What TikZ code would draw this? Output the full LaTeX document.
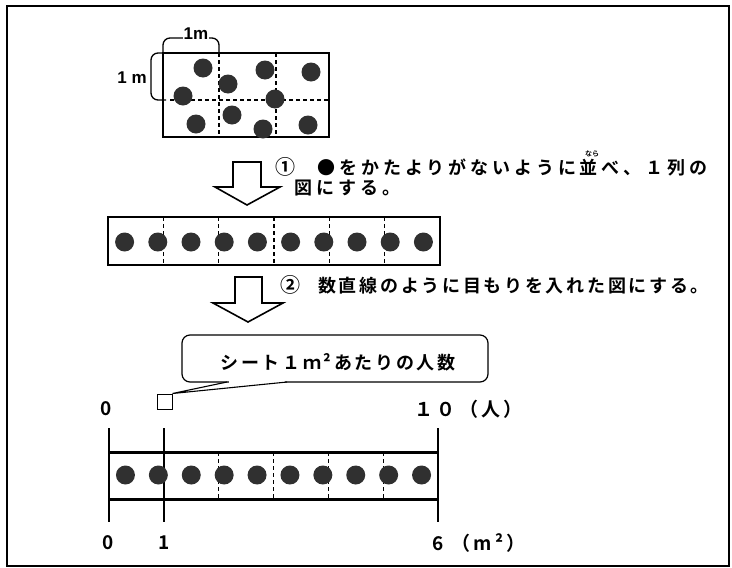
\documentclass[tikz,border=0pt]{standalone}
\usepackage{fontspec}
\setsansfont{Liberation Sans}
\newfontfamily\jp{Noto Sans CJK JP}[LetterSpace=8]
\newfontfamily\jpb{Noto Sans CJK JP Bold}
\newfontfamily\jpnum{Noto Sans CJK JP Bold}[LetterSpace=18]
\newfontfamily\jpwide{Noto Sans CJK JP Bold}[LetterSpace=22]
\newfontfamily\jpmed{Noto Sans CJK JP Bold}[LetterSpace=15]
\definecolor{dotc}{HTML}{303030}
\begin{document}
\begin{tikzpicture}[x=1pt,y=-1pt,
  dot/.style={circle,fill=dotc,inner sep=0pt,minimum size=19pt},
  dsh/.style={line width=1.3pt,dash pattern=on 4pt off 3pt},
  boxline/.style={line width=1.8pt},
  blockarrow/.style={draw,line width=1.6pt,fill=white,line join=miter},
  jtext/.style={inner sep=0pt,anchor=west,font=\jpmed\fontsize{18}{20}\selectfont},
  jtextw/.style={inner sep=0pt,anchor=west,font=\jpwide\fontsize{18}{20}\selectfont},
  circnum/.style={inner sep=0pt,font=\jpb\fontsize{20}{22}\selectfont},
  numlab/.style={inner sep=0pt,font=\jpnum\fontsize{19}{22}\selectfont},
  numlabb/.style={inner sep=0pt,font=\jpnum\fontsize{19}{22}\selectfont},
  mlab/.style={inner sep=1pt,font=\sffamily\bfseries\fontsize{17}{18}\selectfont}]
\useasboundingbox (0,0) rectangle (732,568);
\draw[line width=2pt] (7,6) rectangle (729,566);

% ---- top area diagram
\node[draw,boxline,inner sep=0pt,minimum width=166pt,minimum height=84pt] (top) at (246,95) {};
\draw[dsh] (219,53) -- (219,137);
\draw[dsh] (276,53) -- (276,137);
\draw[dsh] (170,100) -- (329,100);
\draw[line width=1.3pt,rounded corners=7pt] (163,53) -- (163,38) -- (219,38) -- (219,53);
\node[mlab,fill=white] (lab1m) at (196,34) {1m};
\draw[line width=1.3pt,rounded corners=7pt] (163,53) -- (151,53) -- (151,100) -- (166,100);
\node[mlab] (lab1mb) at (132,78) {1 m};
\foreach \n/\x/\y in {a/203/68,b/265/70,c/311/72,d/228/84,e/183/96,f/275/99,g/196/124,h/232/115,i/263/129,j/308/125}
  \node[dot] (t\n) at (\x,\y) {};

% ---- arrow 1 and text
\draw[blockarrow] (233,162) -- (261,162) -- (261,187) -- (280,187) -- (247,205) -- (215,187) -- (233,187) -- cycle;
\node[circnum] (c1) at (285,167) {①};
\node[jtextw] (t1a) at (317,168) {●をかたよりがないように並べ、１列の};
\node[jtextw] (t1b) at (294,188) {図にする。};
\node[inner sep=0pt,font=\jpb\fontsize{7}{8}\selectfont] (furi) at (592,154) {なら};

% ---- middle row
\node[draw,boxline,inner sep=0pt,minimum width=332pt,minimum height=48pt] (mid) at (274,241) {};
\foreach \k in {1,...,5}
  \draw[dsh] ({108+55.33*\k},217) -- ({108+55.33*\k},265);
\foreach \k in {0,...,9}
  \node[dot] (m\k) at ({108+33.2*(\k+0.5)},242) {};

% ---- arrow 2 and text
\draw[blockarrow] (235,277) -- (262,277) -- (262,303) -- (283,303) -- (248,322) -- (213,303) -- (235,303) -- cycle;
\node[circnum] (c2) at (290,285) {②};
\node[jtext] (t2) at (318,286) {数直線のように目もりを入れた図にする。};

% ---- callout
\node[draw,line width=1.2pt,fill=white,rounded corners=8pt,minimum width=306pt,minimum height=47pt,inner sep=0pt] (co) at (335,358.5) {};
\node[jtext,anchor=center] (cotext) at (338,362) {シート１ｍ²あたりの人数};
\node[draw,line width=1pt,minimum size=15pt,inner sep=0pt] (sq) at (164.5,401.5) {};
\draw[white,line width=2.5pt] (229,382) -- (285,382);
\draw[line width=1.1pt,line join=miter] (227,382) -- (sq.north east) -- (287,382);

% ---- number line labels top
\node[numlabb] (n0top) at (106,409) {0};
\node[numlabb,anchor=west] (n10) at (414,409) {１０（人）};

% ---- bottom number line
\coordinate (vL1) at (109,428); \coordinate (vL2) at (109,522);
\coordinate (v11) at (164,428); \coordinate (v12) at (164,522);
\coordinate (vR1) at (438,428); \coordinate (vR2) at (438,522);
\draw[line width=1.8pt] (vL1) -- (vL2);
\draw[line width=1.8pt] (v11) -- (v12);
\draw[line width=1.8pt] (vR1) -- (vR2);
\coordinate (hT1) at (109,452); \coordinate (hT2) at (438,452);
\coordinate (hB1) at (109,499); \coordinate (hB2) at (438,499);
\draw[line width=3pt] (hT1) -- (hT2);
\draw[line width=3pt] (hB1) -- (hB2);
\foreach \k in {2,...,5}
  \draw[dsh] ({109+54.83*\k},452) -- ({109+54.83*\k},499);
\foreach \k in {0,...,9}
  \node[dot] (b\k) at ({109+32.9*(\k+0.5)},475) {};
\node[numlab] (n0b) at (108,543) {0};
\node[numlab] (n1b) at (164,543) {1};
\node[numlab,anchor=west] (n6b) at (432,543) {6 （m²）};
\end{tikzpicture}
\end{document}
